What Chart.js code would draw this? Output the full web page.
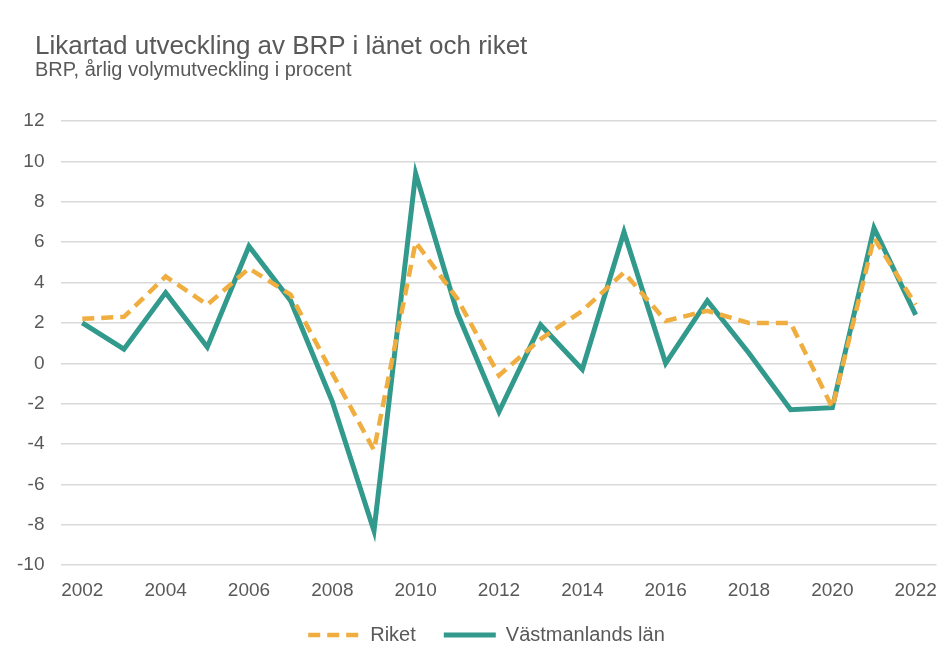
<!DOCTYPE html>
<html>
<head>
<meta charset="utf-8">
<script src="https://cdn.jsdelivr.net/npm/chart.js@4"></script>
<style>
  body { margin: 0; background: #fff; }
  #wrap { position: relative; width: 951px; height: 656px; }
  #title { position: absolute; left: 35px; top: 32px; font: 26px/1 "Liberation Sans", Arial, sans-serif; color: #595959; white-space: nowrap; }
  #subtitle { position: absolute; left: 35px; top: 59px; font: 20px/1 "Liberation Sans", Arial, sans-serif; color: #595959; white-space: nowrap; }
  canvas { position: absolute; left: 0; top: 0; }
</style>
</head>
<body>
<div id="wrap">
  <canvas id="brpChart" width="951" height="656"></canvas>
  <div id="title">Likartad utveckling av BRP i länet och riket</div>
  <div id="subtitle">BRP, årlig volymutveckling i procent</div>
</div>
<script>
// years on the x axis
const years = ['2002','2003','2004','2005','2006','2007','2008','2009','2010','2011','2012',
               '2013','2014','2015','2016','2017','2018','2019','2020','2021','2022'];

// BRP volume change, percent
const riket = [2.2, 2.3, 4.3, 2.9, 4.7, 3.4, -0.5, -4.3, 6.0, 3.2, -0.6,
               1.2, 2.6, 4.5, 2.1, 2.6, 2.0, 2.0, -2.2, 6.2, 2.9];
const vastmanland = [2.0, 0.7, 3.5, 0.8, 5.8, 3.1, -1.9, -8.3, 9.4, 2.5, -2.4,
                     1.9, -0.3, 6.5, 0.0, 3.1, 0.5, -2.3, -2.2, 6.7, 2.4];

const yMin = -10;
const yMax = 12;
const yStep = 2;

const textColor = '#595959';
const gridColor = '#d9d9d9';

// move the legend a little (right and up), like the original
// (only top is moved so the legend's clip box still holds the items)
const legendShift = {
    id: 'legendShift',
    afterLayout(chart) {
        const lg = chart.legend;
        lg.left += 15;
        lg.right += 15;
        lg.top -= 19;
    }
};

const ctx = document.getElementById('brpChart').getContext('2d');

const brpChart = new Chart(ctx, {
    type: 'line',
    data: {
        labels: years,
        datasets: [
            {
                label: 'Riket',
                data: riket,
                borderColor: '#efae3f',
                backgroundColor: '#efae3f',
                borderWidth: 4.5,
                borderDash: [12, 7],
                pointRadius: 0,
                tension: 0
            },
            {
                label: 'Västmanlands län',
                data: vastmanland,
                borderColor: '#329a8c',
                backgroundColor: '#329a8c',
                borderWidth: 5,
                pointRadius: 0,
                tension: 0
            }
        ]
    },
    options: {
        responsive: false,
        animation: false,
        layout: {
            padding: { top: 121, left: 0, right: 8, bottom: 0 }
        },
        scales: {
            x: {
                offset: true,
                grid: { display: false, drawTicks: false },
                border: { display: false },
                ticks: {
                    autoSkip: false,
                    maxRotation: 0,
                    padding: 14,
                    color: textColor,
                    font: { family: '"Liberation Sans", Arial', size: 19 },
                    callback: function(value, index) {
                        return index % 2 === 0 ? years[index] : '';
                    }
                }
            },
            y: {
                min: yMin,
                max: yMax,
                grid: { color: gridColor, lineWidth: 1.5, drawTicks: false },
                border: { display: false },
                ticks: {
                    stepSize: yStep,
                    padding: 17,
                    color: textColor,
                    font: { family: '"Liberation Sans", Arial', size: 19 }
                }
            }
        },
        plugins: {
            legend: {
                position: 'bottom',
                maxHeight: 40,
                labels: {
                    usePointStyle: true,
                    pointStyle: 'line',
                    pointStyleWidth: 52,
                    boxHeight: 10,
                    padding: 28,
                    color: textColor,
                    font: { family: '"Liberation Sans", Arial', size: 20 },
                    // point style drops the dataset dash, so put it back
                    generateLabels: function(chart) {
                        const items = Chart.defaults.plugins.legend.labels.generateLabels(chart);
                        items.forEach(function(item) {
                            const ds = chart.data.datasets[item.datasetIndex];
                            item.lineDash = ds.borderDash || [];
                            item.lineWidth = ds.borderWidth;
                            item.strokeStyle = ds.borderColor;
                        });
                        return items;
                    }
                }
            },
            tooltip: { enabled: false }
        }
    },
    plugins: [legendShift]
});
</script>
</body>
</html>
